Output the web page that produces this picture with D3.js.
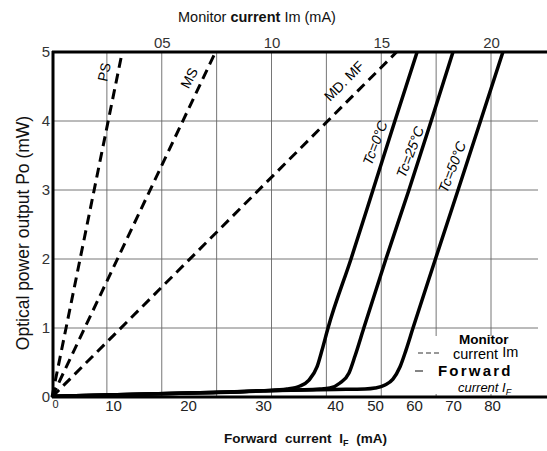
<!DOCTYPE html>
<html>
<head>
<meta charset="utf-8">
<script src="https://cdn.jsdelivr.net/npm/d3@7"></script>
<style>
    body { margin: 0; background: #fff; }
    svg { display: block; font-family: 'Liberation Sans', Arial, sans-serif; }
</style>
</head>
<body>
<svg id="chart" width="547" height="451"></svg>
<script>
// Optical power (mW) axis
const powerTicks = [0, 1, 2, 3, 4, 5];
// Monitor current Im (mA), top axis
const monitorTicks = [5, 10, 15, 20];
const monitorTickLabels = ['05', '10', '15', '20'];
const monitorGrid = [2.5, 5, 7.5, 10, 12.5, 15, 17.5, 20];
// Forward current IF (mA), bottom axis
const forwardTicks = [0, 10, 20, 30, 40, 50, 60, 70, 80];

// monitor current lines: [Im, Po]
const psLine = [[0, 0], [3.2, 5]];
const msLine = [[0, 0], [7.45, 5]];
const mdmfLine = [[0, 0], [15.7, 5]];

// forward current curves: [IF, Po]
const tc0Curve = [[0, 0.01], [21.6, 0.06], [30, 0.09], [33.33, 0.116], [35.14, 0.159], [36.39, 0.246],
    [37.5, 0.435], [38.2, 0.68], [39.03, 1], [44, 2], [49.5, 3], [55.1, 4], [60.8, 5]];
const tc25Curve = [[0, 0.01], [21.6, 0.06], [30, 0.09], [37.9, 0.116], [39.3, 0.13], [41.25, 0.203],
    [43.5, 0.348], [45, 0.594], [47.2, 1], [52.8, 2], [58.7, 3], [64.4, 4], [70, 5]];
const tc50Curve = [[0, 0.01], [21.6, 0.06], [30, 0.09], [40, 0.11], [47.5, 0.116], [50, 0.13],
    [52.56, 0.174], [54.6, 0.26], [56.4, 0.435], [57.95, 0.68], [59.74, 1], [65.5, 2], [71.3, 3],
    [77.06, 4], [82.8, 5]];

const svg = d3.select('#chart');

const y = d3.scaleLinear().domain([0, 5]).range([397, 52]);
const xIm = d3.scaleLinear().domain([0, 20]).range([52, 491]);
// the printed forward-current axis is not evenly spaced
const xIf = d3.scaleLinear()
    .domain([0, 10, 20, 30, 40, 50, 60, 70, 80, 90])
    .range([55, 113, 188, 263, 335, 375, 414, 453, 492, 531]);

// grid
const grid = svg.append('g').attr('stroke', '#666').attr('stroke-width', 0.9);
grid.selectAll('.hgrid')
    .data(powerTicks.filter(d => d > 0 && d < 5))
    .join('line')
    .attr('x1', 53).attr('x2', 538)
    .attr('y1', d => y(d)).attr('y2', d => y(d));
grid.selectAll('.vgrid')
    .data(monitorGrid)
    .join('line')
    .attr('x1', d => xIm(d)).attr('x2', d => xIm(d))
    .attr('y1', 52).attr('y2', 397);

// legend backdrop hides the grid behind the text
svg.append('rect')
    .attr('x', 414).attr('y', 336).attr('width', 128).attr('height', 58)
    .attr('fill', '#fff');

// monitor current lines
const monitorLine = d3.line().x(d => xIm(d[0])).y(d => y(d[1]));
svg.append('g')
    .selectAll('path')
    .data([psLine, msLine, mdmfLine])
    .join('path')
    .attr('d', monitorLine)
    .attr('fill', 'none')
    .attr('stroke', '#000')
    .attr('stroke-width', 3)
    .attr('stroke-dasharray', '10,6');

// forward current curves
const forwardLine = d3.line().x(d => xIf(d[0])).y(d => y(d[1])).curve(d3.curveMonotoneX);
svg.append('g')
    .selectAll('path')
    .data([tc0Curve, tc25Curve, tc50Curve])
    .join('path')
    .attr('d', forwardLine)
    .attr('fill', 'none')
    .attr('stroke', '#000')
    .attr('stroke-width', 3.5)
    .attr('stroke-linejoin', 'round');

// frame
const frame = svg.append('g').attr('stroke', '#000').attr('stroke-width', 3);
frame.append('line').attr('x1', 53).attr('x2', 53).attr('y1', 51).attr('y2', 398);
frame.append('line').attr('x1', 52).attr('x2', 547).attr('y1', 52).attr('y2', 52);
frame.append('line').attr('x1', 52).attr('x2', 547).attr('y1', 397).attr('y2', 397);

// axes (labels only)
const leftAxis = svg.append('g')
    .attr('transform', 'translate(50,0)')
    .call(d3.axisLeft(y).tickValues(powerTicks).tickFormat(d3.format('d')).tickSize(0).tickPadding(0));
leftAxis.selectAll('text').attr('font-size', 15).attr('fill', '#333');

const topAxis = svg.append('g')
    .attr('transform', 'translate(0,48)')
    .call(d3.axisTop(xIm).tickValues(monitorTicks)
        .tickFormat((d, i) => monitorTickLabels[i]).tickSize(0).tickPadding(0));
topAxis.selectAll('text').attr('font-size', 15).attr('fill', '#333');

const bottomAxis = svg.append('g')
    .attr('transform', 'translate(0,400)')
    .call(d3.axisBottom(xIf).tickValues(forwardTicks).tickSize(0).tickPadding(0));
bottomAxis.selectAll('text')
    .attr('font-size', d => d === 0 ? 11 : 15)
    .attr('fill', '#222');

[leftAxis, topAxis, bottomAxis].forEach(axis => axis.select('.domain').remove());

// axis titles
const topTitle = svg.append('text')
    .attr('x', 178).attr('y', 22)
    .attr('font-size', 14.5).attr('fill', '#111');
topTitle.append('tspan').text('Monitor ');
topTitle.append('tspan').attr('font-weight', 'bold').text('current ');
topTitle.append('tspan').text('Im (mA)');

svg.append('text')
    .attr('transform', 'translate(23,233) rotate(-90)')
    .attr('text-anchor', 'middle')
    .attr('dominant-baseline', 'central')
    .attr('font-size', 17.5)
    .attr('fill', '#111')
    .text('Optical power output Po (mW)');

const bottomTitle = svg.append('text')
    .attr('x', 224).attr('y', 443)
    .attr('font-size', 13.5).attr('font-weight', 'bold').attr('fill', '#111')
    .attr('word-spacing', 4);
bottomTitle.append('tspan').text('Forward current I');
bottomTitle.append('tspan').attr('font-size', 9).attr('dy', 3).text('F');
bottomTitle.append('tspan').attr('dy', -3).text(' (mA)');

// line labels
const lineLabels = [
    { text: 'PS', x: 104, y: 72, angle: -78 },
    { text: 'MS', x: 189, y: 78, angle: -62 },
    { text: 'MD. MF', x: 344, y: 81, angle: -45 },
    { text: 'Tc=0°C', x: 375, y: 143, angle: -69, italic: true },
    { text: 'Tc=25°C', x: 410, y: 152, angle: -69, italic: true },
    { text: 'Tc=50°C', x: 452, y: 167, angle: -69, italic: true }
];
svg.append('g')
    .selectAll('text')
    .data(lineLabels)
    .join('text')
    .attr('transform', d => `translate(${d.x},${d.y}) rotate(${d.angle})`)
    .attr('text-anchor', 'middle')
    .attr('dominant-baseline', 'central')
    .attr('font-size', 14)
    .attr('font-style', d => d.italic ? 'italic' : 'normal')
    .attr('fill', '#000')
    .text(d => d.text);

// legend
const legend = svg.append('g').attr('fill', '#000');
legend.append('text').attr('x', 459).attr('y', 344)
    .attr('font-size', 13.5).attr('font-weight', 'bold').text('Monitor');
const monitorItem = legend.append('text').attr('x', 453).attr('y', 359).attr('font-size', 14.5);
monitorItem.append('tspan').text('current ');
monitorItem.append('tspan').attr('dy', -2).text('Im');
legend.append('line')
    .attr('x1', 418).attr('x2', 442).attr('y1', 353).attr('y2', 353)
    .attr('stroke', '#333').attr('stroke-width', 1.2).attr('stroke-dasharray', '5,3');
legend.append('line')
    .attr('x1', 415).attr('x2', 423).attr('y1', 371).attr('y2', 371)
    .attr('stroke', '#333').attr('stroke-width', 1.2);
legend.append('text').attr('x', 438).attr('y', 376)
    .attr('font-size', 15).attr('font-weight', 'bold').attr('letter-spacing', 2.2).text('Forward');
const forwardItem = legend.append('text').attr('x', 458).attr('y', 392)
    .attr('font-size', 13).attr('font-style', 'italic');
forwardItem.append('tspan').text('current I');
forwardItem.append('tspan').attr('font-size', 9).attr('dy', 3).text('F');
</script>
</body>
</html>
